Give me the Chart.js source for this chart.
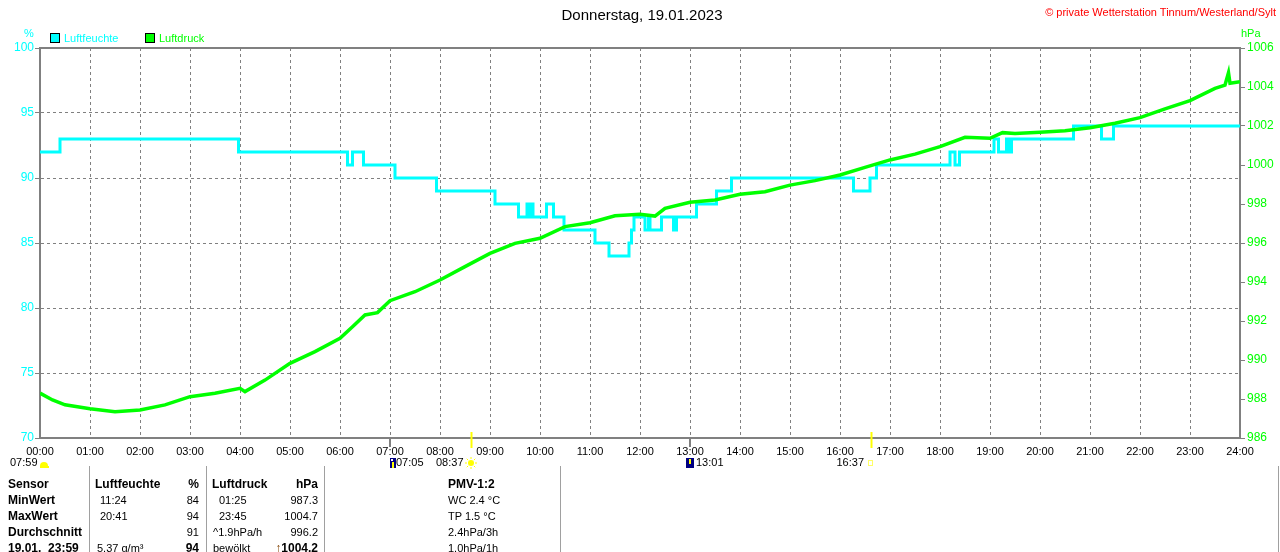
<!DOCTYPE html>
<html>
<head>
<meta charset="utf-8">
<script src="https://cdn.jsdelivr.net/npm/chart.js@4.4.0/dist/chart.umd.min.js"></script>
<style>
  body { margin:0; background:#fff; font-family:"Liberation Sans", Arial, sans-serif; }
  #wrap { position:relative; width:1280px; height:552px; overflow:hidden; background:#fff; }
  #chart { position:absolute; left:0; top:0; }
  .t { position:absolute; white-space:nowrap; font-size:11px; line-height:16px; color:#000; }
  .b { font-weight:bold; font-size:12px; }
  .r { text-align:right; }
  .sep { position:absolute; top:466px; width:1px; height:86px; background:#a0a0a0; }
  .box { position:absolute; width:8px; height:8px; border:1px solid #000; }
</style>
</head>
<body>
<div id="wrap">
  <canvas id="chart" width="1280" height="470"></canvas>

  <div class="t" style="left:0;width:1284px;text-align:center;top:6px;font-size:15px;line-height:18px;">Donnerstag, 19.01.2023</div>
  <div class="t" style="right:4px;top:4px;color:#ff0000;">© private Wetterstation Tinnum/Westerland/Sylt</div>
  <div class="t" style="left:24px;top:25px;color:#00ffff;">%</div>
  <div class="t" style="left:1241px;top:25px;color:#00ff00;">hPa</div>
  <div class="box" style="left:50px;top:33px;background:#00ffff;"></div>
  <div class="t" style="left:64px;top:30px;color:#00ffff;">Luftfeuchte</div>
  <div class="box" style="left:145px;top:33px;background:#00ff00;"></div>
  <div class="t" style="left:159px;top:30px;color:#00ff00;">Luftdruck</div>

  <div class="sep" style="left:89px;"></div>
  <div class="sep" style="left:206px;"></div>
  <div class="sep" style="left:324px;"></div>
  <div class="sep" style="left:560px;"></div>
  <div class="sep" style="left:1278px;"></div>

  <div class="t b" style="left:8px;top:476px;">Sensor<br>MinWert<br>MaxWert<br>Durchschnitt<br>19.01.&nbsp;&nbsp;23:59</div>
  <div class="t b" style="left:95px;top:476px;">Luftfeuchte</div>
  <div class="t" style="left:100px;top:492px;">11:24<br>20:41</div>
  <div class="t" style="left:97px;top:540px;">5.37 g/m³</div>
  <div class="t r" style="left:150px;width:49px;top:476px;"><b style="font-size:12px">%</b><br>84<br>94<br>91<br><b style="font-size:12px">94</b></div>
  <div class="t b" style="left:212px;top:476px;">Luftdruck</div>
  <div class="t" style="left:219px;top:492px;">01:25<br>23:45</div>
  <div class="t" style="left:213px;top:524px;">^1.9hPa/h<br>bewölkt</div>
  <div class="t r" style="left:250px;width:68px;top:476px;"><b style="font-size:12px">hPa</b><br>987.3<br>1004.7<br>996.2<br><b style="font-size:12px"><span style="color:#804000">↑</span>1004.2</b></div>
  <div class="t" style="left:448px;top:476px;"><b style="font-size:12px">PMV-1:2</b><br>WC 2.4 °C<br>TP 1.5 °C<br>2.4hPa/3h<br>1.0hPa/1h</div>
</div>

<script>
// Luftfeuchte (Stufen: Zeitpunkt der Aenderung in Stunden, neuer Wert in %)
const humTimes  = [0,0.4,3.97,6.15,6.25,6.47,7.1,7.93,9.1,9.57,
                   9.74,9.78,9.82,9.86,10.13,10.27,10.48,11.1,11.38,11.78,
                   11.83,11.88,12.1,12.17,12.2,12.43,12.67,12.73,13.13,13.53,
                   13.83,16.27,16.6,16.73,18.2,18.3,18.39,19.08,19.17,19.33,
                   19.39,19.43,20.67,21.23,21.47,24];
const humValues = [92,93,92,91,92,91,90,89,88,87,
                   88,87,88,87,88,87,86,85,84,85,
                   86,87,86,87,86,87,86,87,88,89,
                   90,89,90,91,92,91,92,93,92,93,
                   92,93,94,93,94,94];

// Luftdruck in hPa
const presTimes  = [0,0.25,0.5,1,1.5,2,2.5,3,3.5,4,
                    4.1,4.5,5,5.5,6,6.25,6.5,6.75,7,7.5,
                    8,8.5,9,9.5,10,10.5,11,11.5,12,12.3,
                    12.5,13,13.5,14,14.5,15,15.5,16,16.5,17,
                    17.5,18,18.5,19,19.25,19.5,20,20.5,21,21.5,
                    22,22.5,23,23.5,23.7,23.77,23.8,24];
const presValues = [988.3,987.95,987.7,987.5,987.35,987.44,987.7,988.12,988.3,988.55,
                    988.38,988.97,989.83,990.43,991.11,991.71,992.31,992.43,993.04,993.5,
                    994.1,994.79,995.47,995.98,996.24,996.84,997.04,997.4,997.47,997.38,
                    997.78,998.09,998.21,998.5,998.63,998.97,999.2,999.49,999.88,1000.26,
                    1000.56,1000.94,1001.42,1001.37,1001.66,1001.62,1001.68,1001.76,1001.91,1002.14,
                    1002.43,1002.88,1003.3,1003.93,1004.1,1004.73,1004.19,1004.27];

// Sonnenauf/-untergang (gelbe Striche) und Ereignis-Striche unter der Achse
const sunLines   = [8.617, 16.617];
const eventTicks = [7, 13];

Chart.defaults.font.family = "'Liberation Sans', Arial, sans-serif";

const GRAY = '#808080';
function hideEdge(ctx, a, b) {
  const v = ctx.tick ? ctx.tick.value : null;
  return (v === a || v === b) ? 'rgba(0,0,0,0)' : GRAY;
}

const extras = {
  id: 'extras',
  afterDraw(chart) {
    const c = chart.ctx, a = chart.chartArea, xs = chart.scales.x;
    c.save();
    // obere Rahmenlinie
    c.strokeStyle = GRAY; c.lineWidth = 2;
    c.beginPath(); c.moveTo(a.left - 1, a.top); c.lineTo(a.right + 1, a.top); c.stroke();

    eventTicks.forEach(t => {
      const x = xs.getPixelForValue(t);
      c.strokeStyle = GRAY; c.lineWidth = 2;
      c.beginPath(); c.moveTo(x, a.bottom); c.lineTo(x, a.bottom + 9); c.stroke();
    });
    sunLines.forEach(t => {
      const x = Math.round(xs.getPixelForValue(t)) + 0.5;
      c.strokeStyle = '#ffff00'; c.lineWidth = 2;
      c.beginPath(); c.moveTo(x, a.bottom - 6); c.lineTo(x, a.bottom + 10); c.stroke();
    });

    // Beschriftung der Ereignisse
    c.font = "11px 'Liberation Sans', Arial, sans-serif";
    c.fillStyle = '#000'; c.textBaseline = 'middle';
    const y = 463;
    c.textAlign = 'left';
    c.fillText('07:59', 10, y);
    c.fillText('07:05', 396, y);
    c.fillText('08:37', 436, y);
    c.fillText('13:01', 696, y);
    c.textAlign = 'right';
    c.fillText('16:37', 864, y);

    // kleine Symbole
    c.fillStyle = '#ffff00';
    c.beginPath(); c.arc(44, y + 3, 4, Math.PI, 0); c.fill();
    c.fillRect(40, y + 3, 9, 2);
    c.fillStyle = '#000080';
    c.fillRect(390, y - 5, 6, 10);
    c.fillRect(686, y - 5, 8, 10);
    c.fillStyle = '#ffff00';
    c.fillRect(392, y - 1, 2, 6);
    c.fillRect(689, y - 4, 2, 5);
    c.fillStyle = '#ffffff';
    c.fillRect(391, y - 4, 2, 2);
    // Sonne
    c.fillStyle = '#ffff00'; c.strokeStyle = '#ffff00'; c.lineWidth = 1;
    c.beginPath(); c.arc(471, y, 3, 0, Math.PI * 2); c.fill();
    for (let k = 0; k < 8; k++) {
      const ang = k * Math.PI / 4;
      c.beginPath();
      c.moveTo(471 + Math.cos(ang) * 4, y + Math.sin(ang) * 4);
      c.lineTo(471 + Math.cos(ang) * 6, y + Math.sin(ang) * 6);
      c.stroke();
    }
    c.strokeStyle = '#ffff66';
    c.strokeRect(868.5, y - 2.5, 4, 5);
    c.restore();
  }
};

new Chart(document.getElementById('chart').getContext('2d'), {
  type: 'line',
  data: {
    datasets: [
      {
        label: 'Luftfeuchte',
        data: humTimes.map((t, i) => ({ x: t, y: humValues[i] })),
        yAxisID: 'yH',
        borderColor: '#00ffff',
        borderWidth: 3,
        stepped: true,
        borderJoinStyle: 'miter',
        pointRadius: 0,
        order: 1
      },
      {
        label: 'Luftdruck',
        data: presTimes.map((t, i) => ({ x: t, y: presValues[i] })),
        yAxisID: 'yP',
        borderColor: '#00ff00',
        borderWidth: 3.5,
        tension: 0,
        pointRadius: 0,
        order: 0
      }
    ]
  },
  options: {
    responsive: false,
    devicePixelRatio: 1,
    animation: false,
    layout: { padding: { top: 48, left: 0, right: 0, bottom: 0 } },
    plugins: { legend: { display: false }, tooltip: { enabled: false } },
    scales: {
      x: {
        type: 'linear', min: 0, max: 24,
        afterFit: s => { s.height = 32; },
        ticks: {
          stepSize: 1, autoSkip: false, maxRotation: 0, padding: 7,
          color: '#000', font: { size: 11 },
          callback: v => String(v).padStart(2, '0') + ':00'
        },
        grid: { color: ctx => hideEdge(ctx, 0, 24), lineWidth: 1, drawTicks: false },
        border: { color: GRAY, width: 2, dash: [3, 3] }
      },
      yH: {
        position: 'left', min: 70, max: 100,
        afterFit: s => { s.width = 40; },
        ticks: { stepSize: 5, color: '#00ffff', font: { size: 12 }, padding: 1, callback: v => String(v) },
        grid: { color: ctx => hideEdge(ctx, 70, 100), lineWidth: 1, tickLength: 5, tickColor: GRAY },
        border: { color: GRAY, width: 2, dash: [3, 3] }
      },
      yP: {
        position: 'right', min: 986, max: 1006,
        afterFit: s => { s.width = 40; },
        ticks: { stepSize: 2, color: '#00ff00', font: { size: 12 }, padding: 2, callback: v => String(v) },
        grid: { drawOnChartArea: false, tickLength: 5, tickColor: GRAY },
        border: { color: GRAY, width: 2 }
      }
    }
  },
  plugins: [extras]
});
</script>
</body>
</html>
